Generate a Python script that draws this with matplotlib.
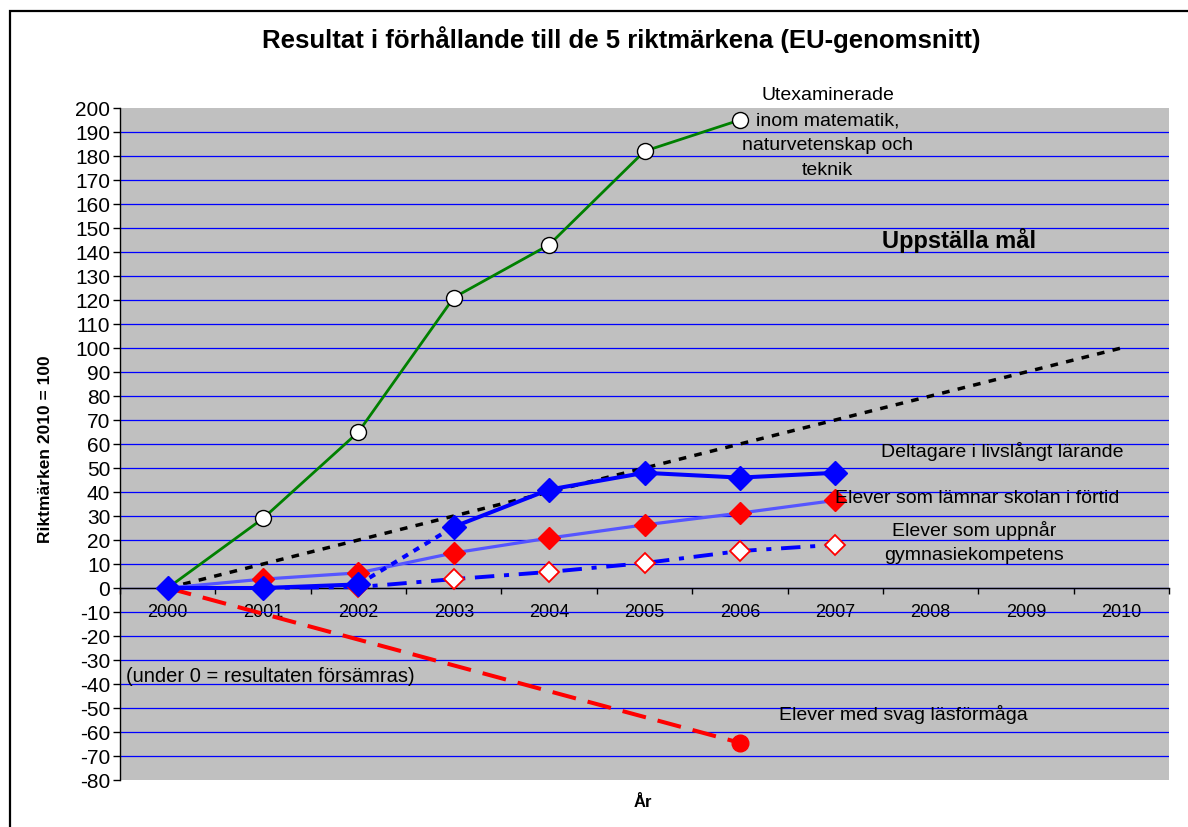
import matplotlib
matplotlib.use('Agg')
import matplotlib.pyplot as plt
from matplotlib.patches import Rectangle

plt.rcParams['font.family'] = ['Liberation Sans', 'DejaVu Sans']
plt.rcParams['axes.unicode_minus'] = False

years = ['2000', '2001', '2002', '2003', '2004', '2005', '2006', '2007', '2008', '2009', '2010']

# Utexaminerade inom matematik, naturvetenskap och teknik
mst = [0, 29, 65, 121, 143, 182, 195]
# Uppställa mål (linjärt mot 100 år 2010)
target = [0, 10, 20, 30, 40, 50, 60, 70, 80, 90, 100]
# Deltagare i livslångt lärande (2002-2003 saknas -> prickad)
lll_a = [0, 0, 1.5]
lll_gap = [1.5, 25.5]
lll_b = [25.5, 41, 48, 46, 48]
# Elever som lämnar skolan i förtid
early = [0, 3.7, 6.3, 14.6, 20.8, 26.3, 31.2, 36.5]
# Elever som uppnår gymnasiekompetens
upper = [0, 0, 0.4, 3.7, 6.7, 10.4, 15.4, 18]
# Elever med svag läsförmåga
reading_x = [0, 6]
reading = [0, -64.5]

W, H = 1188, 828
fig = plt.figure(figsize=(W / 100, H / 100), dpi=100)
ax = fig.add_axes([120 / W, 1 - 781 / H, 1049 / W, 672 / H])
ax.set_facecolor('#C0C0C0')

x = list(range(len(years)))

ax.plot(x, target, color='black', lw=2.5, ls=(0, (2.2, 2.4)), zorder=3)
ax.plot(x[:len(mst)], mst, color='#008000', lw=2.0, marker='o', ms=11.5,
        mfc='white', mec='black', mew=1.0, zorder=4)
ax.plot(reading_x, reading, color='#FF0000', lw=2.9, ls=(0, (6, 3)),
        marker='o', ms=12, mfc='#FF0000', mec='#FF0000', markevery=[1], zorder=4)
ax.plot(x[:len(upper)], upper, color='#0000FF', lw=2.8, ls=(0, (5, 2.5, 1.3, 2.5)),
        zorder=4)
ax.plot(x[:len(upper)], upper, ls='none', marker='D', ms=10.5, mfc='white',
        mec='#FF0000', mew=1.3, zorder=5)
ax.plot(x[:len(early)], early, color='#5555FF', lw=2.3, marker='D', ms=11.5,
        mfc='#FF0000', mec='#FF0000', zorder=6)
ax.plot([2, 3], lll_gap, color='#0000FF', lw=2.9, ls=(0, (1.6, 1.6)), zorder=7)
ax.plot(x[:3], lll_a, color='#0000FF', lw=2.9, marker='D', ms=12, zorder=8)
ax.plot(x[3:8], lll_b, color='#0000FF', lw=2.9, marker='D', ms=12, zorder=8)

ax.set_xlim(-0.5, 10.5)
ax.set_ylim(-80, 200)

# axlar
for s in ['top', 'right']:
    ax.spines[s].set_visible(False)
ax.spines['bottom'].set_position(('data', 0))
ax.spines['bottom'].set_linewidth(1.0)
ax.spines['left'].set_linewidth(1.0)
ax.set_xticks([i - 0.5 for i in range(12)])
ax.set_xticklabels([])
ax.set_xticks(x, minor=True)
ax.set_xticklabels(years, minor=True, fontsize=13)
ax.tick_params(axis='x', which='major', direction='out', length=4, width=1)
ax.tick_params(axis='x', which='minor', length=0, pad=11)
ax.set_yticks(range(-80, 201, 10))
ax.tick_params(axis='y', direction='out', length=5, width=1, labelsize=15, pad=2)

ax.yaxis.grid(True, color='#0000FF', lw=0.9)
ax.set_axisbelow(True)
gl = ax.get_ygridlines()
gl[0].set_visible(False)
gl[-1].set_visible(False)

# texter
tkw = dict(fontsize=14, ha='center', va='center', zorder=10)
ax.text(6.92, 190.0, 'Utexaminerade\ninom matematik,\nnaturvetenskap och\nteknik',
        linespacing=1.6, **tkw)
ax.text(8.30, 145.4, 'Uppställa mål', fontsize=17, fontweight='bold',
        ha='center', va='center')
ax.text(8.75, 57.1, 'Deltagare i livslångt lärande', **tkw)
ax.text(8.49, 37.9, 'Elever som lämnar skolan i förtid', **tkw)
ax.text(8.46, 19.4, 'Elever som uppnår\ngymnasiekompetens', linespacing=1.55, **tkw)
ax.text(-0.44, -36.3, '(under 0 = resultaten försämras)', fontsize=14.5,
        ha='left', va='center')
ax.text(7.71, -52.1, 'Elever med svag läsförmåga', **tkw)

fig.text(621 / W, 1 - 40 / H, 'Resultat i förhållande till de 5 riktmärkena (EU-genomsnitt)',
         fontsize=18.5, fontweight='bold', ha='center', va='center')
fig.text(643 / W, 1 - 803 / H, 'År', fontsize=12, fontweight='bold',
         ha='center', va='center')
fig.text(46 / W, 1 - 449 / H, 'Riktmärken 2010 = 100', fontsize=12.5, fontweight='bold',
         rotation=90, ha='center', va='center')

# ram runt diagrammet
fig.patches.append(Rectangle((10 / W, -0.1), 1.2, 1 - 12 / H + 0.1,
                             transform=fig.transFigure, fill=False,
                             edgecolor='black', lw=1.6))

fig.savefig('out.png', dpi=100)
